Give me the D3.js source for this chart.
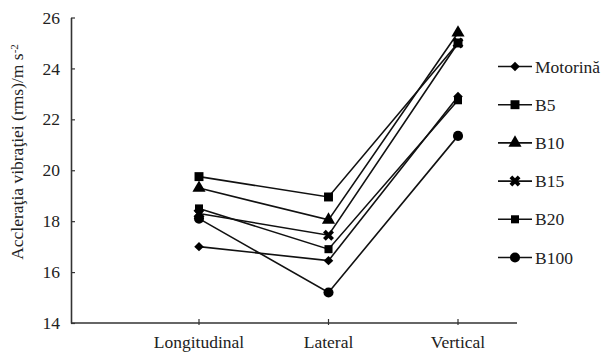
<!DOCTYPE html>
<html>
<head>
<meta charset="utf-8">
<script src="https://cdn.jsdelivr.net/npm/d3@7"></script>
<style>
  body { margin: 0; background: #fff; }
</style>
</head>
<body>
<div id="chart"></div>
<script>
    const categories = ["Longitudinal", "Lateral", "Vertical"];
    const seriesNames = ["Motorină", "B5", "B10", "B15", "B20", "B100"];
    const motorina = [17.0, 16.45, 22.9];
    const b5 = [19.75, 18.95, 25.0];
    const b10 = [19.3, 18.05, 25.4];
    const b15 = [18.3, 17.45, 25.0];
    const b20 = [18.5, 16.9, 22.75];
    const b100 = [18.1, 15.2, 21.35];
    const yTicks = [14, 16, 18, 20, 22, 24, 26];

    const font = "'Liberation Serif', 'DejaVu Serif', 'Times New Roman', serif";
    const fs = 17.5;

    const seriesValues = [motorina, b5, b10, b15, b20, b100];
    const symbols = [d3.symbolSquare, d3.symbolSquare, d3.symbolTriangle, d3.symbolCross, d3.symbolSquare, d3.symbolCircle];
    const symSize = [45, 80, 75, 75, 65, 80];
    const symRotate = [45, 0, 0, 45, 0, 0];

    const w = 604;
    const h = 353;

    const svg = d3.select('#chart')
        .append('svg')
        .attr('width', w)
        .attr('height', h);

    const xScale = d3.scalePoint()
        .domain(categories)
        .range([199, 458]);

    const yScale = d3.scaleLinear()
        .domain([14, 26])
        .range([323, 17.5]);

    // y axis, ticks pointing inward
    const yAxis = d3.axisRight(yScale)
        .tickValues(yTicks)
        .tickSize(4)
        .tickSizeOuter(0)
        .tickFormat('');

    const gy = svg.append('g')
        .attr('transform', 'translate(71,0)')
        .call(yAxis);
    gy.select('.domain').attr('stroke', '#333').attr('stroke-width', 1.6);
    gy.selectAll('.tick line').attr('stroke', '#333').attr('stroke-width', 1.2);

    svg.selectAll('.ylab')
        .data(yTicks)
        .enter()
        .append('text')
        .attr('class', 'ylab')
        .attr('x', 60)
        .attr('y', (d) => yScale(d))
        .attr('dy', '0.35em')
        .attr('text-anchor', 'end')
        .attr('font-family', font)
        .attr('font-size', fs)
        .attr('fill', '#222')
        .text((d) => d);

    // x axis
    svg.append('line')
        .attr('x1', 71)
        .attr('x2', 517)
        .attr('y1', yScale(14))
        .attr('y2', yScale(14))
        .attr('stroke', '#333')
        .attr('stroke-width', 1.6);

    svg.selectAll('.xtick')
        .data(categories)
        .enter()
        .append('line')
        .attr('class', 'xtick')
        .attr('x1', (d) => xScale(d))
        .attr('x2', (d) => xScale(d))
        .attr('y1', yScale(14) - 4)
        .attr('y2', yScale(14) + 2)
        .attr('stroke', '#333')
        .attr('stroke-width', 1.2);

    svg.selectAll('.xlab')
        .data(categories)
        .enter()
        .append('text')
        .attr('class', 'xlab')
        .attr('x', (d) => xScale(d))
        .attr('y', 348)
        .attr('text-anchor', 'middle')
        .attr('font-family', font)
        .attr('font-size', fs)
        .attr('fill', '#222')
        .text((d) => d);

    // y axis title
    const title = svg.append('text')
        .attr('transform', 'translate(23,152) rotate(-90)')
        .attr('text-anchor', 'middle')
        .attr('font-family', font)
        .attr('font-size', fs)
        .attr('fill', '#222');
    title.append('tspan').text('Accleraţia vibraţiei  (rms)/m s');
    title.append('tspan').attr('dy', '-0.5em').attr('font-size', 11).text('-2');

    const line = d3.line()
        .x((d, i) => xScale(categories[i]))
        .y((d) => yScale(d));

    const series = svg.selectAll('.series')
        .data(seriesValues)
        .enter()
        .append('g')
        .attr('class', 'series');

    series.append('path')
        .attr('d', (d) => line(d))
        .attr('fill', 'none')
        .attr('stroke', '#111')
        .attr('stroke-width', 1.6);

    series.each(function (vals, s) {
        d3.select(this).selectAll('path.mark')
            .data(vals)
            .enter()
            .append('path')
            .attr('class', 'mark')
            .attr('d', d3.symbol().type(symbols[s]).size(symSize[s]))
            .attr('transform', (d, i) => 'translate(' + xScale(categories[i]) + ',' + yScale(d) + ') rotate(' + symRotate[s] + ')')
            .attr('fill', '#000');
    });

    // legend
    const legend = svg.selectAll('.legend')
        .data(seriesNames)
        .enter()
        .append('g')
        .attr('class', 'legend')
        .attr('transform', (d, i) => 'translate(0,' + (66.5 + i * 38.2) + ')');

    legend.append('line')
        .attr('x1', 498)
        .attr('x2', 532)
        .attr('stroke', '#111')
        .attr('stroke-width', 1.6);

    legend.append('path')
        .attr('d', (d, i) => d3.symbol().type(symbols[i]).size(symSize[i])())
        .attr('transform', (d, i) => 'translate(515,0) rotate(' + symRotate[i] + ')')
        .attr('fill', '#000');

    legend.append('text')
        .attr('x', 535)
        .attr('dy', '0.35em')
        .attr('font-family', font)
        .attr('font-size', fs)
        .attr('fill', '#222')
        .text((d) => d);
</script>
</body>
</html>
